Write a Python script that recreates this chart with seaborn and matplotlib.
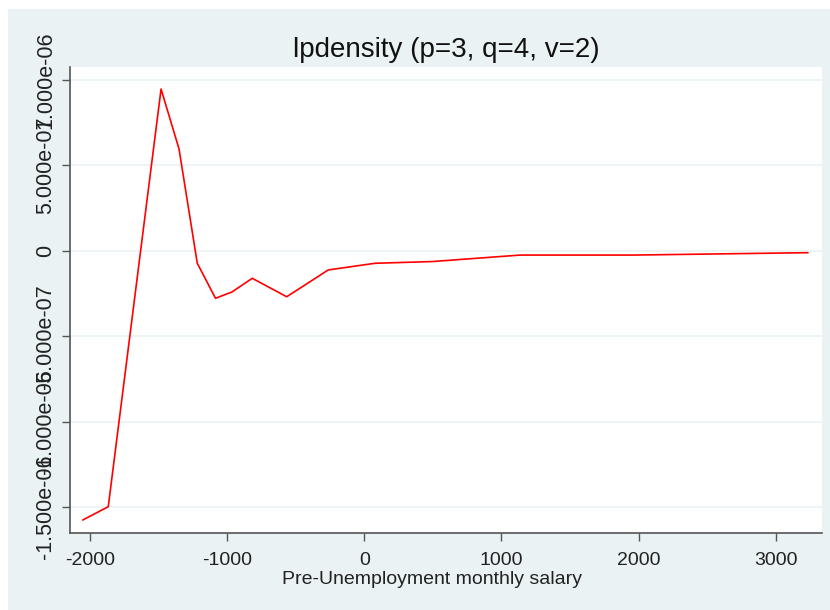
import matplotlib
matplotlib.use("Agg")
import matplotlib.pyplot as plt
from matplotlib.patches import Rectangle
import seaborn as sns
import pandas as pd

# valeurs
salary = [-2053, -1867, -1482, -1351, -1218, -1085, -965, -817, -566,
          -263, 78, 494, 1135, 1959, 3235]
density = [-1.576e-6, -1.498e-6, 0.947e-6, 0.596e-6, -0.073e-6, -0.278e-6,
           -0.241e-6, -0.161e-6, -0.269e-6, -0.112e-6, -0.073e-6, -0.063e-6,
           -0.025e-6, -0.025e-6, -0.011e-6]

x_ticks = [-2000, -1000, 0, 1000, 2000, 3000]
y_ticks = [1e-6, 5e-7, 0, -5e-7, -1e-6, -1.5e-6]
y_labels = ["1.000e-06", "5.000e-07", "0", "-5.000e-07", "-1.000e-06", "-1.500e-06"]

title = "lpdensity (p=3, q=4, v=2)"
x_label = "Pre-Unemployment monthly salary"

bg = "#EAF2F3"

sns.set_theme(style="white")
plt.rcParams['font.family'] = ['Liberation Sans', 'DejaVu Sans']

df = pd.DataFrame({"salary": salary, "density": density})

fig = plt.figure(figsize=(8.3, 6.1), dpi=100, facecolor="white")
fig.add_artist(Rectangle((8 / 830, 0), 1, 1 - 9 / 610, transform=fig.transFigure,
                         facecolor=bg, edgecolor="none", zorder=-5))
ax = fig.add_axes([70 / 830, 1 - 533 / 610, (822 - 70) / 830, (533 - 67) / 610])
ax.set_zorder(2)
ax.set_facecolor("white")

sns.lineplot(data=df, x="salary", y="density", ax=ax, color="#FF0000",
             linewidth=1.2, sort=False, zorder=3)

ax.set_xlim(-2146, 3337)
ax.set_ylim(-1.652e-6, 1.076e-6)

ax.set_xticks(x_ticks)
ax.set_xticklabels([str(t) for t in x_ticks], fontsize=14, color="#222222")
ax.set_yticks(y_ticks)
# les libellés se chevauchent aussi dans l'original (style Stata)
ax.set_yticklabels(y_labels, fontsize=15.5, color="#222222", rotation=90, va="center")

for y in y_ticks:
    ax.axhline(y, color=bg, linewidth=1.2, zorder=1)

for side in ["top", "right"]:
    ax.spines[side].set_visible(False)
for side in ["left", "bottom"]:
    ax.spines[side].set_color("#555555")
    ax.spines[side].set_linewidth(1.2)

ax.tick_params(axis="both", which="major", direction="out", length=6, width=1,
               color="#555555", left=True, bottom=True)
ax.tick_params(axis="x", pad=7.5)
ax.tick_params(axis="y", pad=4)

ax.set_xlabel(x_label, fontsize=14, color="#222222")
ax.xaxis.set_label_coords(0.482, -0.081)
ax.set_ylabel("")
ax.set_title(title, fontsize=20, color="#111111", pad=7.2)

fig.savefig("out.png", dpi=100, facecolor="white")
